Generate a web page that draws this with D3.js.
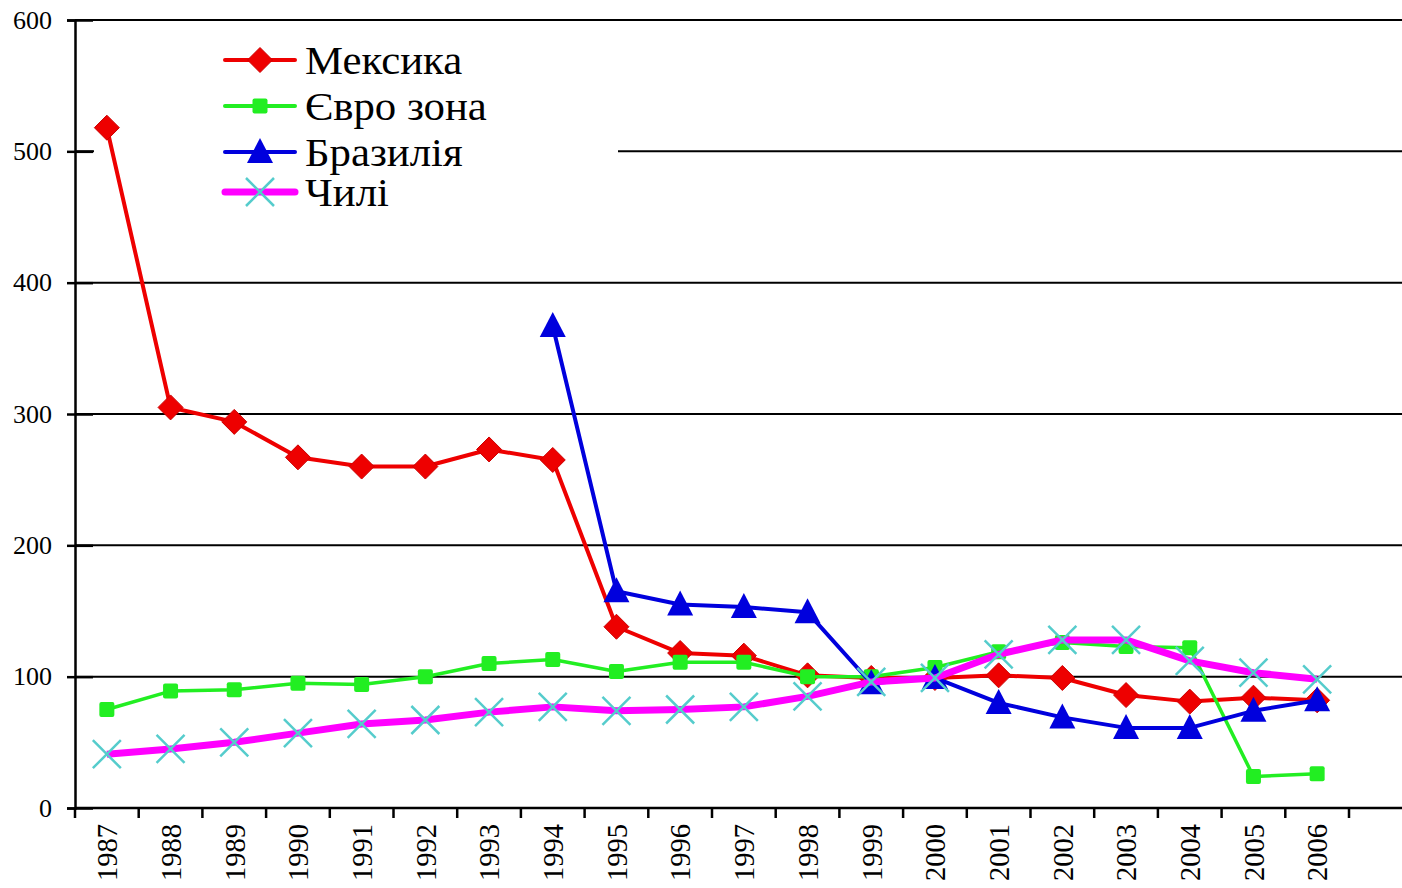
<!DOCTYPE html>
<html>
<head>
<meta charset="utf-8">
<script src="https://cdn.jsdelivr.net/npm/d3@7"></script>
<style>
  body { margin: 0; background: #fff; }
  svg text { font-family: "Liberation Serif", "Times New Roman", serif; }
</style>
</head>
<body>
<div id="chart"></div>
<script>
// data
var years = ["1987","1988","1989","1990","1991","1992","1993","1994","1995","1996",
             "1997","1998","1999","2000","2001","2002","2003","2004","2005","2006"];
var mexico = [518, 305, 294, 267, 260, 260, 273, 265, 138, 118, 116, 101, 99, 99, 101, 99, 86, 81, 84, 82];
var euro   = [75, 89, 90, 95, 94, 100, 110, 113, 104, 111, 111, 100, 100, 107, 119, 126, 123, 122, 24, 26];
var brazil = [null, null, null, null, null, null, null, 367, 165, 155, 153, 149, 95, 99, 80, 69, 61, 61, 74, 82];
var chile  = [41, 45, 50, 57, 64, 67, 73, 77, 74, 75, 77, 85, 96, 99, 117, 128, 128, 112, 103, 98];
var yTicks = [0, 100, 200, 300, 400, 500, 600];

var series = [
  {name: "Мексика",   values: mexico, color: "#ee0000", width: 4,   marker: "diamond"},
  {name: "Євро зона", values: euro,   color: "#22ee22", width: 3.5, marker: "square"},
  {name: "Бразилія",  values: brazil, color: "#0000dd", width: 4,   marker: "triangle"},
  {name: "Чилі",      values: chile,  color: "#ff00ff", width: 7,   marker: "cross"}
];

var W = 1402, H = 888;
var serif = "'Liberation Serif', 'Times New Roman', serif";
var svg = d3.select("#chart").append("svg").attr("width", W).attr("height", H);

var x = d3.scaleBand().domain(years).range([75, 1349]);
var y = d3.scaleLinear().domain([0, 600]).range([808, 20]);
var cx = function(i) { return x(years[i]) + x.bandwidth() / 2; };

// gridlines
svg.append("g").selectAll("line").data(yTicks.filter(d => d > 0)).enter().append("line")
  .attr("x1", 75).attr("x2", W).attr("y1", d => y(d)).attr("y2", d => y(d))
  .attr("stroke", "#000").attr("stroke-width", 2);

// legend background hides the gridline behind it
svg.append("rect").attr("x", 94).attr("y", 30).attr("width", 524).attr("height", 185).attr("fill", "#fff");

// y axis
var yAxis = svg.append("g").attr("transform", "translate(75,0)")
  .call(d3.axisLeft(y).tickValues(yTicks).tickSize(8).tickPadding(14))
  .attr("font-family", serif);
yAxis.select(".domain").attr("stroke-width", 2.5);
yAxis.selectAll(".tick line").attr("x2", -8).attr("x1", 18).attr("stroke-width", 2.5);
yAxis.selectAll(".tick text").attr("font-size", 26).attr("fill", "#000").attr("x", -23);

// x axis
var xAxis = svg.append("g").attr("transform", "translate(0,808)")
  .call(d3.axisBottom(x).tickSize(0).tickPadding(14))
  .attr("font-family", serif);
xAxis.select(".domain").remove();
svg.append("line").attr("x1", 75).attr("x2", W).attr("y1", 808).attr("y2", 808)
  .attr("stroke", "#000").attr("stroke-width", 2.5);
svg.append("g").selectAll("line").data(d3.range(years.length + 1)).enter().append("line")
  .attr("x1", i => 75 + i * x.step()).attr("x2", i => 75 + i * x.step())
  .attr("y1", 808).attr("y2", 818).attr("stroke", "#000").attr("stroke-width", 2.5);
xAxis.selectAll(".tick text")
  .attr("font-size", 28.5).attr("fill", "#000")
  .attr("transform", "rotate(-90)")
  .attr("text-anchor", "end").attr("x", -16).attr("y", 0).attr("dy", "0.36em");

function drawMarker(g, type, px, py) {
  if (type === "diamond") {
    g.append("path").attr("d", "M" + px + "," + (py - 12.5) + "L" + (px + 12.5) + "," + py + "L" + px + "," + (py + 12.5) + "L" + (px - 12.5) + "," + py + "Z")
      .attr("fill", "#ee0000").attr("stroke", "#cc0000").attr("stroke-width", 1);
  } else if (type === "square") {
    g.append("rect").attr("x", px - 7.5).attr("y", py - 7.5).attr("width", 15).attr("height", 15)
      .attr("rx", 2).attr("fill", "#22ee22");
  } else if (type === "triangle") {
    g.append("path").attr("d", "M" + px + "," + (py - 14) + "L" + (px + 13) + "," + (py + 11) + "L" + (px - 13) + "," + (py + 11) + "Z")
      .attr("fill", "#0000dd");
  } else {
    g.append("path").attr("d", "M" + (px - 14) + "," + (py - 14) + "L" + (px + 14) + "," + (py + 14) + "M" + (px + 14) + "," + (py - 14) + "L" + (px - 14) + "," + (py + 14))
      .attr("stroke", "#55cccc").attr("stroke-width", 2.5).attr("fill", "none");
  }
}

var line = d3.line().defined(d => d != null).x((d, i) => cx(i)).y(d => y(d));

series.forEach(function(s) {
  var g = svg.append("g");
  g.append("path").datum(s.values).attr("d", line)
    .attr("fill", "none").attr("stroke", s.color).attr("stroke-width", s.width)
    .attr("stroke-linejoin", "round");
  s.values.forEach(function(v, i) {
    if (v != null) drawMarker(g, s.marker, cx(i), y(v));
  });
});

// legend
var legendY = [60, 106, 152, 192];
series.forEach(function(s, i) {
  var g = svg.append("g");
  g.append("line").attr("x1", 225).attr("x2", 295).attr("y1", legendY[i]).attr("y2", legendY[i])
    .attr("stroke", s.color).attr("stroke-width", s.marker === "cross" ? 7 : 4).attr("stroke-linecap", "round");
  drawMarker(g, s.marker, 260, legendY[i]);
  g.append("text").attr("transform", "translate(305," + legendY[i] + ") scale(1.07,1)")
    .attr("dy", "0.35em").attr("font-size", 40).attr("fill", "#000").text(s.name);
});
</script>
</body>
</html>
